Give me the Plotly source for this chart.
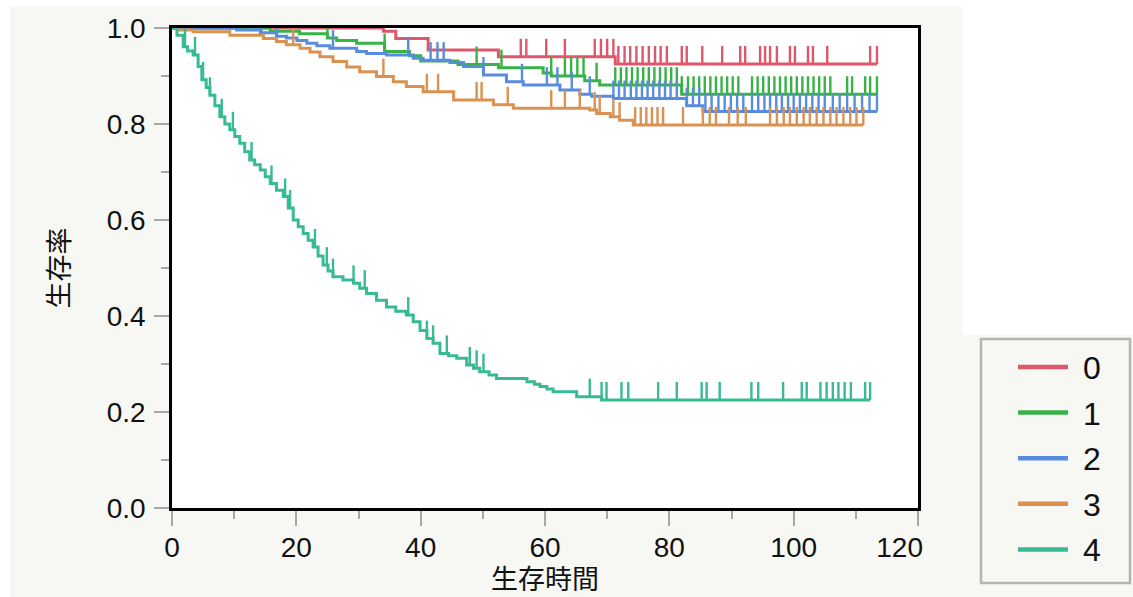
import plotly.graph_objects as go

# ---------------- data ----------------
groups = ["0", "1", "2", "3", "4"]
colors = ["#DF576A", "#39B248", "#588CDE", "#DA9152", "#38BA94"]

# group 0
t0 = [0, 34.0, 36.0, 41.2, 52.5, 71.3]
s0 = [1.0, 0.993, 0.978, 0.954, 0.940, 0.925]
end0 = 113.4
c0 = [56.1, 57.0, 60.2, 63.2, 68.0, 69.0, 70.0, 71.0,
      71.8, 72.8, 73.7, 74.7, 75.7, 76.7, 77.7, 78.6, 79.6,
      82.0, 82.8, 85.3, 88.5, 91.4, 92.2, 94.6, 95.4, 96.2, 97.3,
      99.4, 100.2, 102.3, 103.1, 105.4, 112.3, 113.4]

# group 1
t1 = [0, 15.8, 20.5, 25.0, 26.5, 29.7, 34.2, 38.2, 40.0, 46.0, 52.5, 59.7, 61.0, 66.4, 68.8, 82.0]
s1 = [1.0, 0.993, 0.988, 0.979, 0.974, 0.968, 0.951, 0.942, 0.931, 0.924, 0.917, 0.906, 0.900, 0.890, 0.881, 0.862]
end1 = 113.4
c1 = [25.0, 34.2, 49.0, 53.0, 61.0, 63.2, 64.2, 65.2, 66.2, 68.3,
      71.3, 72.2, 73.1, 74.0, 74.9, 75.8, 76.7, 77.6, 78.5, 79.4, 80.3, 81.2,
      82.0,
      83.0, 83.9, 84.8, 85.7, 86.6, 87.5, 88.4, 89.3, 90.2, 91.1,
      93.3, 94.2, 95.1, 96.0, 96.9, 97.8, 98.7, 99.6, 100.5, 101.4, 102.3, 103.2, 104.1, 105.0, 105.9,
      108.6, 109.4, 111.5, 112.3, 113.4]

# group 2
t2 = [0, 10.4, 14.2, 16.8, 18.4, 20.1, 21.7, 23.3, 25.4, 29.7, 31.3, 34.5, 38.8, 40.4, 44.7, 46.9,
      50.1, 53.8, 56.5, 62.4, 65.6, 67.5, 71.0, 82.8, 85.4]
s2 = [1.0, 0.996, 0.990, 0.983, 0.979, 0.974, 0.968, 0.963, 0.958, 0.951, 0.947, 0.944, 0.937, 0.933, 0.928, 0.920,
      0.902, 0.888, 0.881, 0.871, 0.862, 0.858, 0.853, 0.838, 0.826]
end2 = 113.4
c2 = [12.8, 13.6, 14.4, 16.9, 25.9, 38.0, 41.6, 42.7, 43.7, 50.1, 56.3, 60.3, 62.0, 64.3, 67.2,
      71.0, 71.9, 72.8, 73.8, 74.7, 75.6, 76.5, 77.4, 78.4, 79.3, 80.2, 81.2,
      82.8, 83.8, 84.8, 85.8, 86.8, 87.9, 88.9, 89.9, 90.9, 91.9,
      93.3, 94.3, 95.3, 96.2, 97.2, 98.1, 99.1, 100.0, 101.0, 102.0, 103.0, 104.0, 105.0, 106.3,
      107.4, 108.6, 109.8, 111.0, 112.2, 113.4]

# group 3
t3 = [0, 1.0, 3.4, 9.3, 14.7, 16.8, 18.4, 20.6, 22.2, 23.8, 25.9, 28.1, 30.2, 32.9, 35.6, 37.7,
      40.4, 45.3, 51.7, 54.9, 67.2, 68.3, 70.5, 72.0, 74.2]
s3 = [1.0, 0.996, 0.992, 0.985, 0.978, 0.972, 0.965, 0.958, 0.950, 0.940, 0.930, 0.919, 0.909, 0.899, 0.888, 0.878,
      0.867, 0.850, 0.840, 0.833, 0.829, 0.822, 0.815, 0.808, 0.798]
end3 = 111.2
c3 = [19.5, 34.0, 41.0, 42.8, 49.0, 49.8, 54.0, 61.0, 63.2, 65.6, 68.0, 68.8, 71.0, 72.0,
      74.5, 75.4, 76.3, 77.2, 78.1, 79.0, 82.2, 85.4, 86.5, 87.5, 89.6, 91.0, 92.3,
      96.2, 97.3, 98.4, 99.4, 100.5, 101.6, 102.6, 103.7, 104.8, 105.9, 106.9, 108.0, 109.1, 110.1, 111.2]

# group 4
t4 = [0, 0.8, 1.8, 2.5, 3.4, 4.2, 4.8, 5.5, 6.1, 6.9, 7.7, 8.5, 9.3, 10.1, 10.9, 11.7, 12.5, 13.3,
      14.2, 15.0, 15.8, 16.8, 17.9, 18.7, 19.5, 20.3, 21.1, 21.9, 22.7, 23.5, 24.3, 25.1, 25.9,
      27.5, 29.2, 30.2, 31.3, 32.9, 34.5, 36.0, 37.7, 38.8, 39.9, 41.0, 42.0, 43.1, 44.5, 45.8,
      47.4, 48.5, 49.5, 51.0, 52.2, 57.1, 58.3, 59.2, 60.3, 61.3, 65.1, 69.1]
s4 = [1.0, 0.985, 0.961, 0.952, 0.944, 0.920, 0.892, 0.876, 0.860, 0.838, 0.815, 0.800, 0.788, 0.774,
      0.760, 0.742, 0.725, 0.715, 0.704, 0.690, 0.676, 0.662, 0.649, 0.625, 0.600, 0.586, 0.572,
      0.558, 0.544, 0.525, 0.506, 0.494, 0.482, 0.475, 0.468, 0.458, 0.447, 0.433, 0.419, 0.410,
      0.402, 0.388, 0.370, 0.353, 0.343, 0.322, 0.317, 0.312, 0.298, 0.291, 0.284, 0.277, 0.270,
      0.263, 0.258, 0.253, 0.248, 0.242, 0.232, 0.225]
end4 = 112.3
c4 = [2.1, 3.7, 5.0, 6.1, 8.0, 9.8, 12.8, 16.0, 18.2, 19.0, 23.0, 24.9, 25.9, 29.2, 31.0,
      38.0, 41.0, 42.0, 44.2, 47.9, 49.0, 50.1, 67.2, 69.1, 69.9, 72.3, 73.4, 78.2, 81.2,
      85.2, 86.0, 88.1, 93.2, 94.3, 98.3, 101.3, 102.1, 104.3, 105.3, 106.3, 107.2, 108.2,
      109.2, 111.5, 112.3]

x_ticks = [0, 20, 40, 60, 80, 100, 120]
x_tick_labels = ["0", "20", "40", "60", "80", "100", "120\u2007\u2007\u2009"]
y_ticks = [0.0, 0.2, 0.4, 0.6, 0.8, 1.0]
y_tick_labels = ["0.0", "0.2", "0.4", "0.6", "0.8", "1.0"]
x_title = "生存時間"
y_title = "生存率"

series = [
    (t0, s0, end0, c0),
    (t1, s1, end1, c1),
    (t2, s2, end2, c2),
    (t3, s3, end3, c3),
    (t4, s4, end4, c4),
]

# ---------------- figure ----------------
FONT = "Liberation Sans, Arial, Noto Sans CJK JP, sans-serif"
W, H = 1133, 597
ML, MR, MT, MB = 172, 215, 28, 89
PW, PH = W - ML - MR, H - MT - MB


def px_x(p):
    return (p - ML) / PW


def px_y(p):
    return (H - MB - p) / PH


def surv_at(times, surv, t):
    v = surv[0]
    for ti, si in zip(times, surv):
        if ti <= t + 1e-9:
            v = si
    return v


TICK_LEN = 0.0375

fig = go.Figure()
for name, col, (tt, ss, end, cens) in zip(groups, colors, series):
    fig.add_trace(go.Scatter(
        x=tt + [end], y=ss + [ss[-1]], mode="lines", name=name,
        line=dict(color=col, width=3, shape="hv"), hoverinfo="skip",
    ))
    fig.add_trace(go.Scatter(
        x=cens, y=[surv_at(tt, ss, c) for c in cens], mode="markers", name=name,
        marker=dict(size=1, color=col, opacity=0), showlegend=False,
        error_y=dict(type="constant", value=TICK_LEN, valueminus=0, symmetric=False,
                     color=col, thickness=2.4, width=0),
        hoverinfo="skip",
    ))

TICKCOL = "#A6A6A6"
fig.update_xaxes(
    range=[0, 120], tickvals=x_ticks, ticktext=x_tick_labels,
    ticks="outside", ticklen=15, tickwidth=2, tickcolor=TICKCOL,
    minor=dict(dtick=10, tick0=0, ticks="outside", ticklen=8, tickwidth=2, tickcolor=TICKCOL, showgrid=False),
    showline=True, linecolor="black", linewidth=2.5, mirror=True,
    showgrid=False, zeroline=False, tickfont=dict(size=28, color="#111"),
    ticklabelstandoff=-2,
    title=dict(text=x_title, font=dict(size=27, color="#111"), standoff=8),
)
fig.update_yaxes(
    range=[0, 1.0], tickvals=y_ticks, ticktext=y_tick_labels,
    ticks="outside", ticklen=15, tickwidth=2, tickcolor=TICKCOL,
    minor=dict(dtick=0.1, tick0=0, ticks="outside", ticklen=8, tickwidth=2, tickcolor=TICKCOL, showgrid=False),
    showline=True, linecolor="black", linewidth=2.5, mirror=True,
    showgrid=False, zeroline=False, tickfont=dict(size=28, color="#111"),
    ticklabelstandoff=3,
    title=dict(text=y_title, font=dict(size=27, color="#111"), standoff=30),
)

shapes = [
    # white page strips around the grey panel
    dict(type="rect", xref="paper", yref="paper", x0=px_x(0), x1=px_x(W), y0=px_y(0), y1=px_y(6),
         fillcolor="white", line=dict(width=0), layer="below"),
    dict(type="rect", xref="paper", yref="paper", x0=px_x(0), x1=px_x(10), y0=px_y(0), y1=px_y(H),
         fillcolor="white", line=dict(width=0), layer="below"),
    dict(type="rect", xref="paper", yref="paper", x0=px_x(962), x1=px_x(W), y0=px_y(0), y1=px_y(335),
         fillcolor="white", line=dict(width=0), layer="below"),
    # legend box
    dict(type="rect", xref="paper", yref="paper", x0=px_x(981), x1=px_x(1130), y0=px_y(339), y1=px_y(583),
         fillcolor="#F7F7F4", line=dict(color="#B4B4B4", width=2.5), layer="below"),
]
annotations = []
for i, (name, col) in enumerate(zip(groups, colors)):
    yp = 367 + i * 45.6
    shapes.append(dict(type="line", xref="paper", yref="paper", x0=px_x(1018), x1=px_x(1068),
                       y0=px_y(yp), y1=px_y(yp), line=dict(color=col, width=4.5)))
    annotations.append(dict(xref="paper", yref="paper", x=px_x(1081), y=px_y(yp + 1), text=name,
                            showarrow=False, xanchor="left", yanchor="middle",
                            font=dict(size=32, color="#111", family=FONT)))

fig.update_layout(
    width=W, height=H,
    margin=dict(l=ML, r=MR, t=MT, b=MB, pad=0, autoexpand=False),
    paper_bgcolor="#F7F7F4", plot_bgcolor="white",
    showlegend=False,
    font=dict(family=FONT, size=24, color="#111"),
    shapes=shapes, annotations=annotations,
)

fig.write_html("out.html", config={"displayModeBar": False},
               post_script="document.body.style.margin='0px';")
